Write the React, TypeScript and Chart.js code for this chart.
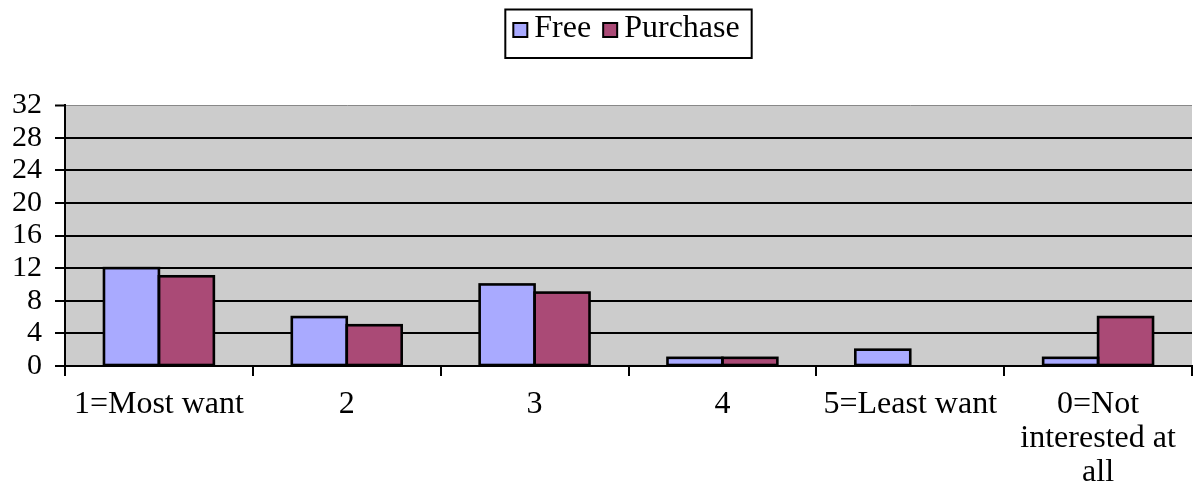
import React, { useEffect, useRef } from "react";
import { Chart, registerables } from "chart.js";

Chart.register(...registerables);

const categories: (string | string[])[] = [
  "1=Most want",
  "2",
  "3",
  "4",
  "5=Least want",
  ["0=Not", "interested at", "all"],
];
const freeValues = [12, 6, 10, 1, 2, 1];
const purchaseValues = [11, 5, 9, 1, 0, 6];
const yTickValues = [0, 4, 8, 12, 16, 20, 24, 28, 32];
const seriesNames = ["Free", "Purchase"];
const seriesColors = ["#A9AAFF", "#AA4A76"];

const FONT = "'Liberation Serif', 'Times New Roman', serif";

const plotBgPlugin = {
  id: "plotBg",
  beforeDraw(chart: any) {
    const { ctx, chartArea } = chart;
    ctx.save();
    ctx.fillStyle = "#CCCCCC";
    ctx.fillRect(chartArea.left, chartArea.top, chartArea.right - chartArea.left, chartArea.bottom - chartArea.top);
    ctx.restore();
  },
};

const barOutlinePlugin = {
  id: "barOutline",
  afterDatasetsDraw(chart: any) {
    const { ctx } = chart;
    ctx.save();
    ctx.strokeStyle = "#000";
    ctx.lineWidth = 2.6;
    chart.data.datasets.forEach((_d: any, i: number) => {
      const meta = chart.getDatasetMeta(i);
      meta.data.forEach((bar: any) => {
        const p = bar.getProps(["x", "y", "base", "width"], true);
        const h = p.base - p.y;
        if (Math.abs(h) < 0.5) return;
        ctx.strokeRect(p.x - p.width / 2, p.y, p.width, h);
      });
    });
    ctx.restore();
  },
};

const boxLegendPlugin = {
  id: "boxLegend",
  afterDraw(chart: any) {
    const { ctx, chartArea } = chart;
    const ds = chart.data.datasets;
    ctx.save();
    ctx.font = `32px ${FONT}`;
    const marker = 14;
    const gapMarkerText = 7;
    const gapItems = 12;
    const padL = 8;
    const padR = 12;
    let content = 0;
    ds.forEach((d: any, i: number) => {
      content += marker + gapMarkerText + ctx.measureText(d.label).width;
      if (i < ds.length - 1) content += gapItems;
    });
    const boxW = padL + content + padR;
    const cx = (chartArea.left + chartArea.right) / 2;
    const boxL = cx - boxW / 2;
    const boxT = 9.5;
    const boxH = 48.5;
    ctx.lineWidth = 2;
    ctx.strokeStyle = "#000";
    ctx.strokeRect(boxL, boxT, boxW, boxH);
    let x = boxL + padL;
    const baseline = 37;
    ds.forEach((d: any) => {
      ctx.fillStyle = d.backgroundColor;
      ctx.fillRect(x, 23, marker, marker);
      ctx.strokeStyle = "#000";
      ctx.lineWidth = 2;
      ctx.strokeRect(x, 23, marker, marker);
      x += marker + gapMarkerText;
      ctx.fillStyle = "#000";
      ctx.textBaseline = "alphabetic";
      ctx.textAlign = "left";
      ctx.fillText(d.label, x, baseline);
      x += ctx.measureText(d.label).width + gapItems;
    });
    ctx.restore();
  },
};

export default function App() {
  const canvasRef = useRef<HTMLCanvasElement | null>(null);

  useEffect(() => {
    if (!canvasRef.current) return;
    const chart = new Chart(canvasRef.current, {
      type: "bar",
      data: {
        labels: categories as any,
        datasets: [
          {
            label: seriesNames[0],
            data: freeValues,
            backgroundColor: seriesColors[0],
            borderWidth: 0,
            inflateAmount: 0,
          } as any,
          {
            label: seriesNames[1],
            data: purchaseValues,
            backgroundColor: seriesColors[1],
            borderWidth: 0,
            inflateAmount: 0,
          } as any,
        ],
      },
      options: {
        animation: false,
        responsive: true,
        maintainAspectRatio: false,
        layout: { padding: { top: 105, right: 2, left: 0, bottom: 0 } },
        datasets: { bar: { categoryPercentage: 0.585, barPercentage: 1 } } as any,
        plugins: {
          legend: { display: false },
          tooltip: { enabled: false },
        },
        scales: {
          x: {
            grid: {
              offset: true,
              drawOnChartArea: false,
              drawTicks: true,
              tickLength: 10,
              color: "#000",
              lineWidth: 2,
            },
            border: { display: true, color: "#000", width: 2 },
            ticks: {
              color: "#000",
              font: { family: FONT, size: 32, lineHeight: 1.06 },
              padding: 12,
              maxRotation: 0,
              minRotation: 0,
              autoSkip: false,
            },
            afterFit(scale: any) {
              scale.height = 119;
            },
          },
          y: {
            min: 0,
            max: 32,
            afterBuildTicks(scale: any) {
              scale.ticks = yTickValues.map((v) => ({ value: v }));
            },
            grid: {
              color: (c: any) => (c.tick && c.tick.value === 32 ? "#888888" : "#000"),
              lineWidth: (c: any) => (c.tick && c.tick.value === 32 ? 1 : 2),
              tickColor: "#000",
              tickWidth: 2,
              tickLength: 10,
              drawTicks: true,
            } as any,
            border: { display: true, color: "#000", width: 2 },
            ticks: {
              color: "#000",
              font: { family: FONT, size: 30 },
              padding: 13,
              autoSkip: false,
            },
            afterFit(scale: any) {
              scale.width = 65;
            },
          },
        },
      },
      plugins: [plotBgPlugin, barOutlinePlugin, boxLegendPlugin],
    });
    return () => chart.destroy();
  }, []);

  return (
    <div style={{ position: "fixed", left: 0, top: 0, width: 1194, height: 485, background: "#fff" }}>
      <canvas ref={canvasRef} />
    </div>
  );
}
